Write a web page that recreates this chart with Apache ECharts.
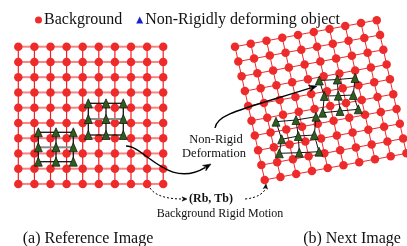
<!DOCTYPE html>
<html>
<head>
<meta charset="utf-8">
<script src="https://cdn.jsdelivr.net/npm/echarts@6/dist/echarts.min.js"></script>
<style>
  html, body { margin: 0; padding: 0; background: #fff; }
  #main { width: 407px; height: 246px; }
</style>
</head>
<body>
<div id="main"></div>
<script>
// legend / captions / notes
const legendNames = ['Background', 'Non-Rigidly deforming object'];
const captionTexts = ['(a) Reference Image', '(b) Next Image'];
const noteTexts = ['Non-Rigid', 'Deformation', '(Rb, Tb)', 'Background Rigid Motion'];

// background lattices (10 x 10), origin + column step + row step
const latticeSize = 10;
const leftOrigin = [18.3, 46.7];
const leftColStep = [16.1, 0];
const leftRowStep = [0, 15.25];
const rightOrigin = [235, 46.7];
const rightColStep = [15.75, -2.95];
const rightRowStep = [3.3, 14.8];

// non-rigid object points, row by row
const leftObjectUpper = [
  [[88.3, 103.3], [106, 103.3], [123.3, 103.3]],
  [[88.3, 119], [106, 119], [123.3, 119]],
  [[88.3, 135], [106, 135], [123.3, 135]]
];
const leftObjectLower = [
  [[38.3, 132.3], [56, 132.3], [73.3, 132.3]],
  [[38.3, 147.3], [56, 147.3], [73.3, 147.3]],
  [[38.3, 161.7], [56, 161.7], [73.3, 161.7]]
];
const rightObjectUpper = [
  [[319.3, 80.5], [337.3, 79.5], [355, 78]],
  [[324.3, 96], [338.3, 95.7], [353.3, 95]],
  [[322.7, 112.7], [340, 111], [358.3, 109.3]]
];
const rightObjectLower = [
  [[276, 121.7], [296, 120], [316, 116.7]],
  [[281.7, 139.3], [298.3, 136], [314.3, 135]],
  [[279.3, 153.3], [299.3, 152.7], [319, 151.7]]
];

// arrows as cubic bezier paths [start, cp1, cp2, end], last flag: 1 = dotted
const deformArrow = [[126, 146], [145, 146], [168, 190], [211, 164], 0];
const nextArrow = [[215, 128], [217, 114], [240, 110], [317, 86], 0];
const rigidArrowLeft = [[150, 188], [156, 197], [170, 199], [187, 199], 1];
const rigidArrowRight = [[245, 199], [258, 198], [265, 192], [266, 184], 1];

const RED = '#ee2b2b';
const SERIF = '"Liberation Serif", "DejaVu Serif", serif';

// edge styles: index -> [colour, width]
const edgeStyles = [
  ['#f58585', 2],    // 0 left lattice, horizontal
  ['#ee2222', 1.2],  // 1 left lattice, vertical
  ['#ee2a2a', 1],    // 2 right lattice
  ['#111111', 1.3],  // 3 left object outline / verticals
  ['#8a8a8a', 2],    // 4 left object middle row
  ['#111111', 1]     // 5 right object
];

function lattice(origin, colStep, rowStep) {
  const rows = [];
  for (let r = 0; r < latticeSize; r++) {
    const row = [];
    for (let c = 0; c < latticeSize; c++) {
      row.push([
        origin[0] + c * colStep[0] + r * rowStep[0],
        origin[1] + c * colStep[1] + r * rowStep[1]
      ]);
    }
    rows.push(row);
  }
  return rows;
}

function meshEdges(rows, hStyle, vStyle, midRowStyle) {
  const edges = [];
  rows.forEach((row, r) => {
    row.forEach((p, c) => {
      if (c < row.length - 1) {
        const isMid = midRowStyle != null && r > 0 && r < rows.length - 1;
        const q = row[c + 1];
        edges.push([p[0], p[1], q[0], q[1], isMid ? midRowStyle : hStyle]);
      }
      if (r < rows.length - 1) {
        const q = rows[r + 1][c];
        edges.push([p[0], p[1], q[0], q[1], vStyle]);
      }
    });
  });
  return edges;
}

const leftGrid = lattice(leftOrigin, leftColStep, leftRowStep);
const rightGrid = lattice(rightOrigin, rightColStep, rightRowStep);

const gridEdges = [].concat(
  meshEdges(leftGrid, 0, 1),
  meshEdges(rightGrid, 2, 2)
);
const objectEdges = [].concat(
  meshEdges(leftObjectUpper, 3, 3, 4),
  meshEdges(leftObjectLower, 3, 3, 4),
  meshEdges(rightObjectUpper, 5, 5),
  meshEdges(rightObjectLower, 5, 5)
);

const dots = [].concat(...leftGrid, ...rightGrid);
const triangles = [].concat(...leftObjectUpper, ...leftObjectLower, ...rightObjectUpper, ...rightObjectLower);
const arrows = [deformArrow, nextArrow, rigidArrowLeft, rigidArrowRight].map(a => [
  a[0][0], a[0][1], a[1][0], a[1][1], a[2][0], a[2][1], a[3][0], a[3][1], a[4]
]);

function renderEdge(params, api) {
  const a = api.coord([api.value(0), api.value(1)]);
  const b = api.coord([api.value(2), api.value(3)]);
  const st = edgeStyles[api.value(4)];
  return {
    type: 'line',
    shape: { x1: a[0], y1: a[1], x2: b[0], y2: b[1] },
    style: { stroke: st[0], lineWidth: st[1], fill: null }
  };
}

function renderArrow(params, api) {
  const p = [0, 1, 2, 3].map(i => api.coord([api.value(2 * i), api.value(2 * i + 1)]));
  const dotted = api.value(8) === 1;
  const dx = p[3][0] - p[2][0];
  const dy = p[3][1] - p[2][1];
  const len = Math.hypot(dx, dy) || 1;
  const ux = dx / len;
  const uy = dy / len;
  const head = dotted ? 5 : 8;
  const wing = dotted ? 2.2 : 3.2;
  const bx = p[3][0] - ux * head * 0.8;
  const by = p[3][1] - uy * head * 0.8;
  const baseX = p[3][0] - ux * head;
  const baseY = p[3][1] - uy * head;
  return {
    type: 'group',
    children: [
      {
        type: 'bezierCurve',
        shape: {
          x1: p[0][0], y1: p[0][1],
          cpx1: p[1][0], cpy1: p[1][1],
          cpx2: p[2][0], cpy2: p[2][1],
          x2: bx, y2: by
        },
        style: { stroke: '#000', fill: null, lineWidth: dotted ? 1 : 1.4, lineDash: dotted ? [2, 2] : null }
      },
      {
        type: 'polygon',
        shape: {
          points: [
            [p[3][0], p[3][1]],
            [baseX - uy * wing, baseY + ux * wing],
            [p[3][0] - ux * head * 0.7, p[3][1] - uy * head * 0.7],
            [baseX + uy * wing, baseY - ux * wing]
          ]
        },
        style: { fill: '#000', stroke: '#000', lineWidth: 0.5 }
      }
    ]
  };
}

function textEl(text, x, y, size, weight) {
  return {
    type: 'text',
    x: x,
    y: y,
    style: {
      text: text,
      fill: '#111',
      font: `${weight || 'normal'} ${size}px ${SERIF}`,
      textAlign: 'center',
      textVerticalAlign: 'middle'
    },
    silent: true
  };
}

const chart = echarts.init(document.getElementById('main'));
chart.setOption({
  animation: false,
  backgroundColor: '#fff',
  grid: { left: 0, right: 0, top: 0, bottom: 0 },
  xAxis: { type: 'value', min: 0, max: 407, show: false },
  yAxis: { type: 'value', min: 0, max: 246, inverse: true, show: false },
  legend: {
    left: 30,
    top: 7,
    itemWidth: 7,
    itemHeight: 7,
    itemGap: 14,
    textStyle: { fontFamily: SERIF, fontSize: 16, color: '#111', padding: [0, 0, 0, -3] },
    data: [
      { name: legendNames[0], icon: 'circle', itemStyle: { color: RED, borderWidth: 0 } },
      { name: legendNames[1], icon: 'triangle', itemStyle: { color: '#1a22d0', borderColor: '#1a22d0', borderWidth: 0 } }
    ]
  },
  graphic: [
    textEl(noteTexts[0], 216, 140, 12.5),
    textEl(noteTexts[1], 214, 153.5, 12.5),
    textEl(noteTexts[2], 211, 198.5, 12, 'bold'),
    textEl(noteTexts[3], 220, 214, 12),
    textEl(captionTexts[0], 88, 238.5, 16),
    textEl(captionTexts[1], 352, 238.5, 16)
  ],
  series: [
    {
      type: 'custom',
      silent: true,
      z: 1,
      renderItem: renderEdge,
      encode: { x: [0, 2], y: [1, 3] },
      data: gridEdges
    },
    {
      name: legendNames[0],
      type: 'scatter',
      silent: true,
      z: 2,
      symbol: 'circle',
      symbolSize: 8.5,
      itemStyle: { color: RED, opacity: 1 },
      data: dots
    },
    {
      type: 'custom',
      silent: true,
      z: 3,
      renderItem: renderEdge,
      encode: { x: [0, 2], y: [1, 3] },
      data: objectEdges
    },
    {
      name: legendNames[1],
      type: 'scatter',
      silent: true,
      z: 4,
      symbol: 'triangle',
      symbolSize: [8, 9],
      itemStyle: { color: '#2d5f1c', borderColor: '#111', borderWidth: 0.7, opacity: 1 },
      data: triangles
    },
    {
      type: 'custom',
      silent: true,
      z: 5,
      renderItem: renderArrow,
      encode: { x: [0, 2, 4, 6], y: [1, 3, 5, 7] },
      data: arrows
    }
  ]
});
</script>
</body>
</html>
